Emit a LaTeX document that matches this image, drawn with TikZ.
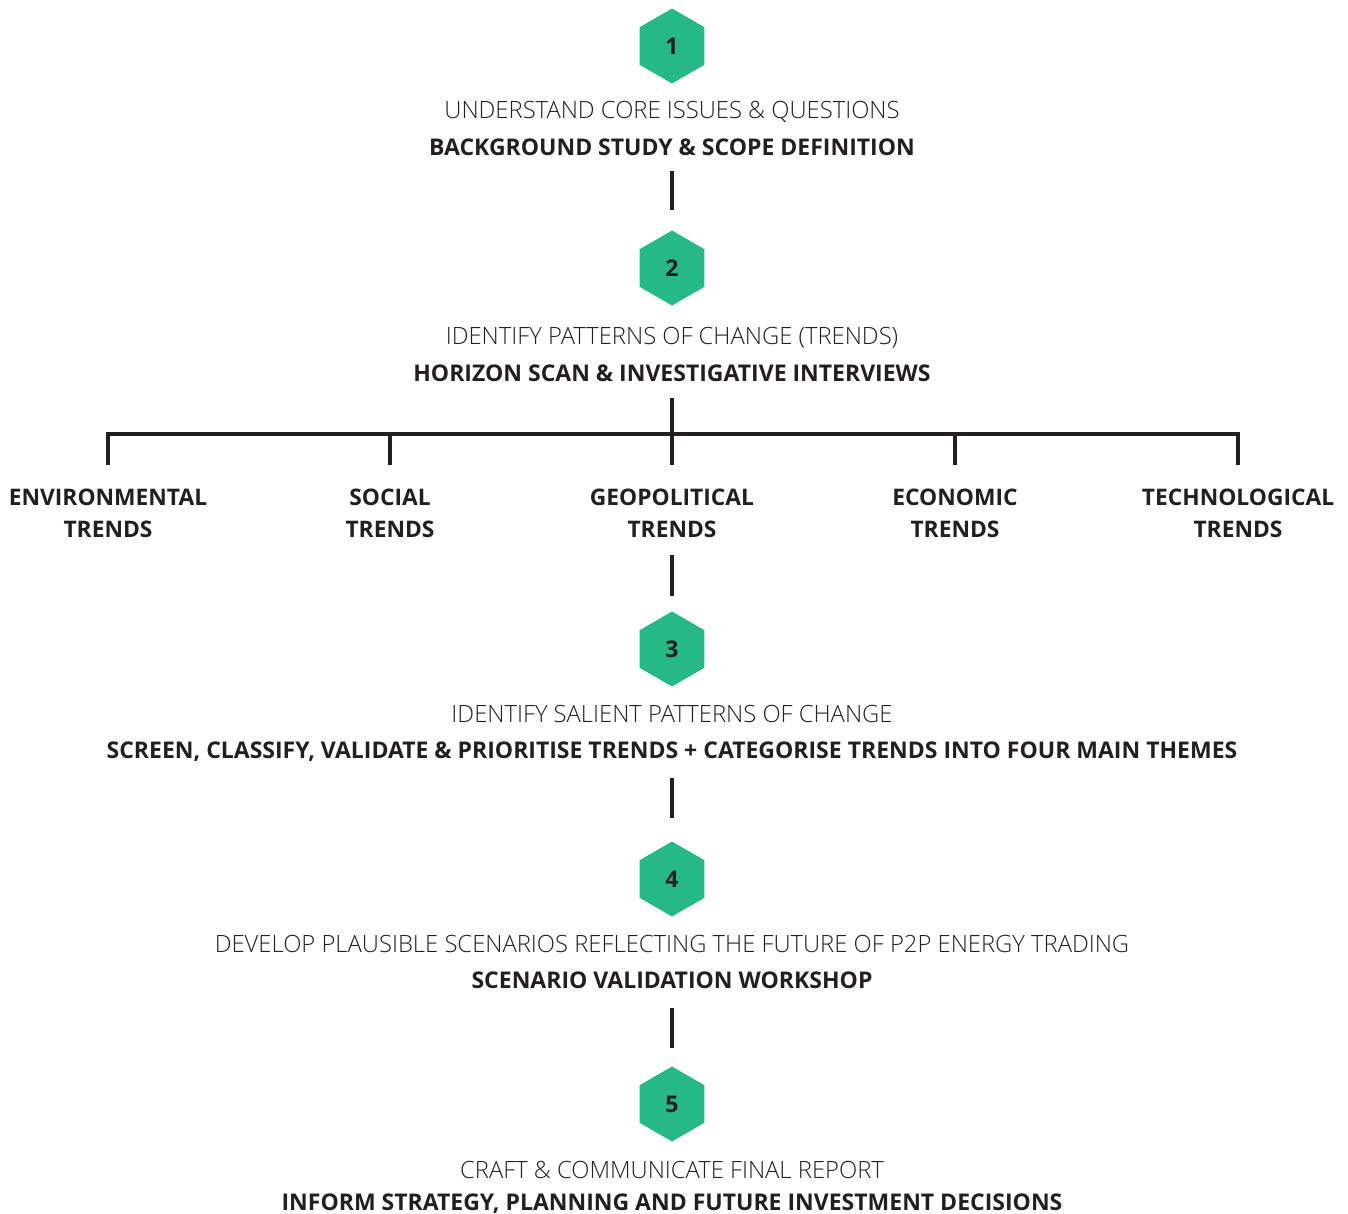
\documentclass[tikz,border=0pt]{standalone}
\usepackage{fontspec}
\setmainfont{Open Sans}
\newfontfamily\lightfont{Open Sans Light}
\usetikzlibrary{shapes.geometric}
\definecolor{hexgreen}{RGB}{38,184,134}
\definecolor{ink}{RGB}{35,31,32}
\begin{document}
\begin{tikzpicture}[x=1pt,y=-1pt,
  hexagon/.style={regular polygon, regular polygon sides=6, regular polygon rotate=30,
    minimum size=75pt, inner sep=0pt, fill=hexgreen, text=ink, font=\bfseries\fontsize{23}{23}\selectfont},
  lighttext/.style={anchor=base, text=ink, inner sep=0pt, font=\lightfont\fontsize{23.8}{23.8}\selectfont},
  boldtext/.style={anchor=base, text=ink, inner sep=0pt, font=\bfseries\fontsize{23}{23}\selectfont},
  trendtext/.style={anchor=base, text=ink, inner sep=0pt, align=center,
    font=\bfseries\fontsize{22.8}{32}\selectfont},
  link/.style={draw=ink, line width=4pt}]
\useasboundingbox (0,0) rectangle (1348,1213);

% step 1
\node[hexagon] (h1) at (672,46) {1};
\node[lighttext] (a1) at (672,118) {UNDERSTAND CORE ISSUES \& QUESTIONS};
\node[boldtext] (b1) at (672,155) {BACKGROUND STUDY \& SCOPE DEFINITION};
\coordinate (l1a) at (672,171);
\coordinate (l1b) at (672,210);
\draw[link] (l1a) -- (l1b);

% step 2
\node[hexagon] (h2) at (672,268) {2};
\node[lighttext] (a2) at (672,344) {IDENTIFY PATTERNS OF CHANGE (TRENDS)};
\node[boldtext] (b2) at (672,381) {HORIZON SCAN \& INVESTIGATIVE INTERVIEWS};

% trend branches
\coordinate (l2a) at (672,398);
\coordinate (bar) at (672,434);
\coordinate (bl) at (108,434);
\coordinate (br) at (1238,434);
\draw[link] (l2a) -- (bar);
\draw[link, line cap=rect] (bl) -- (br);
\foreach \x/\name/\label in {108/env/ENVIRONMENTAL, 390/soc/SOCIAL, 672/geo/GEOPOLITICAL, 955/eco/ECONOMIC, 1238/tec/TECHNOLOGICAL}{
  \coordinate (d\name) at (\x,434);
  \coordinate (e\name) at (\x,465);
  \draw[link] (d\name) -- (e\name);
  \node[trendtext] (t\name) at (\x,537) {\label\\TRENDS};
}

\coordinate (l3a) at (672,555);
\coordinate (l3b) at (672,596);
\draw[link] (l3a) -- (l3b);

% step 3
\node[hexagon] (h3) at (672,649) {3};
\node[lighttext] (a3) at (672,722) {IDENTIFY SALIENT PATTERNS OF CHANGE};
\node[boldtext] (b3) at (672,758) {SCREEN, CLASSIFY, VALIDATE \& PRIORITISE TRENDS + CATEGORISE TRENDS INTO FOUR MAIN THEMES};
\coordinate (l4a) at (672,778);
\coordinate (l4b) at (672,818);
\draw[link] (l4a) -- (l4b);

% step 4
\node[hexagon] (h4) at (672,879) {4};
\node[lighttext] (a4) at (672,952) {DEVELOP PLAUSIBLE SCENARIOS REFLECTING THE FUTURE OF P2P ENERGY TRADING};
\node[boldtext] (b4) at (672,988) {SCENARIO VALIDATION WORKSHOP};
\coordinate (l5a) at (672,1008);
\coordinate (l5b) at (672,1048);
\draw[link] (l5a) -- (l5b);

% step 5
\node[hexagon] (h5) at (672,1104) {5};
\node[lighttext] (a5) at (672,1178) {CRAFT \& COMMUNICATE FINAL REPORT};
\node[boldtext] (b5) at (672,1210) {INFORM STRATEGY, PLANNING AND FUTURE INVESTMENT DECISIONS};
\end{tikzpicture}
\end{document}
